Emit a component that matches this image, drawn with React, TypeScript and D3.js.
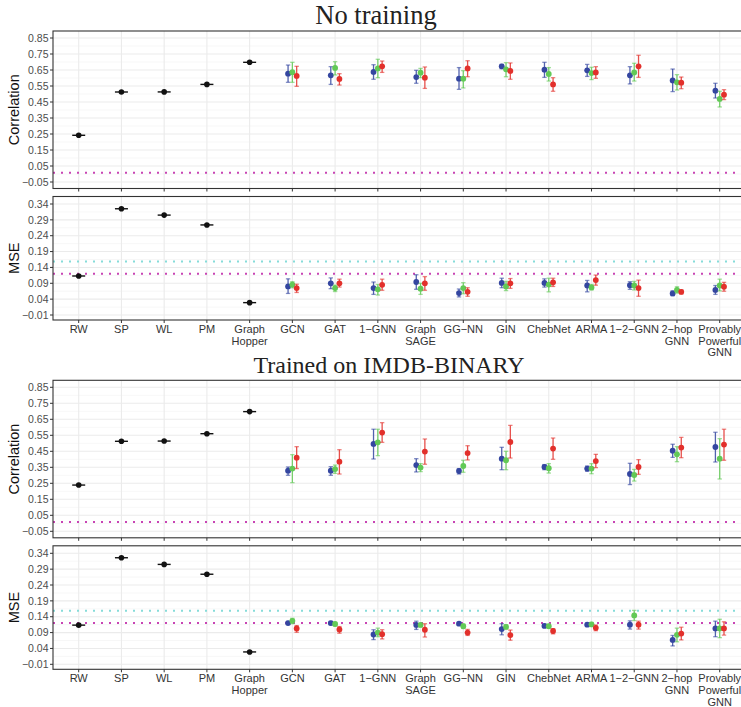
import React from "react";
import * as d3 from "d3";

// x categories
const categories = [
  "RW", "SP", "WL", "PM", "Graph\nHopper", "GCN", "GAT", "1\u2212GNN",
  "Graph\nSAGE", "GG\u2212NN", "GIN", "ChebNet", "ARMA", "1\u22122\u2212GNN",
  "2\u2212hop\nGNN", "Provably\nPowerful\nGNN",
];
const kernels = categories.slice(0, 5);
const gnns = categories.slice(5);

// kernel baselines (single value each)
const corrNoTrainKernels = [0.242, 0.5125, 0.513, 0.56, 0.698];
const mseNoTrainKernels = [0.113, 0.325, 0.305, 0.274, 0.029];
const corrTrainedKernels = [0.239, 0.5125, 0.514, 0.56, 0.698];
const mseTrainedKernels = [0.1135, 0.326, 0.305, 0.274, 0.029];

// gnn series: [mean, low, high]
const corrNoTrainBlue = [[0.627,0.573,0.681],[0.617,0.56,0.671],[0.638,0.592,0.683],[0.606,0.567,0.648],[0.596,0.529,0.665],[0.673,0.658,0.685],[0.652,0.604,0.698],[0.648,0.61,0.685],[0.617,0.563,0.671],[0.585,0.515,0.656],[0.521,0.475,0.567]];
const corrNoTrainGreen = [[0.636,0.573,0.698],[0.663,0.619,0.702],[0.66,0.602,0.717],[0.633,0.602,0.66],[0.596,0.538,0.646],[0.654,0.608,0.696],[0.625,0.581,0.665],[0.631,0.59,0.667],[0.635,0.581,0.692],[0.573,0.525,0.621],[0.469,0.419,0.517]];
const corrNoTrainRed = [[0.613,0.548,0.673],[0.594,0.556,0.627],[0.673,0.635,0.706],[0.602,0.535,0.669],[0.66,0.608,0.708],[0.644,0.592,0.694],[0.56,0.517,0.602],[0.635,0.598,0.671],[0.673,0.604,0.742],[0.571,0.533,0.606],[0.496,0.465,0.527]];

const mseNoTrainBlue = [[0.08,0.058,0.104],[0.09,0.073,0.107],[0.075,0.055,0.094],[0.094,0.071,0.117],[0.059,0.047,0.072],[0.091,0.076,0.106],[0.091,0.078,0.104],[0.083,0.063,0.099],[0.084,0.071,0.095],[0.058,0.051,0.066],[0.069,0.055,0.083]];
const mseNoTrainGreen = [[0.086,0.076,0.095],[0.075,0.064,0.084],[0.071,0.053,0.086],[0.073,0.055,0.09],[0.075,0.057,0.092],[0.08,0.067,0.096],[0.086,0.063,0.106],[0.077,0.069,0.086],[0.083,0.069,0.096],[0.069,0.059,0.079],[0.083,0.066,0.103]];
const mseNoTrainRed = [[0.075,0.061,0.087],[0.09,0.078,0.103],[0.085,0.068,0.103],[0.09,0.068,0.111],[0.063,0.049,0.076],[0.09,0.074,0.105],[0.093,0.08,0.106],[0.1,0.084,0.116],[0.075,0.049,0.1],[0.063,0.056,0.069],[0.079,0.065,0.093]];

const corrTrainedBlue = [[0.329,0.3,0.352],[0.329,0.3,0.354],[0.496,0.402,0.588],[0.364,0.321,0.404],[0.327,0.308,0.342],[0.404,0.335,0.475],[0.352,0.335,0.367],[0.342,0.325,0.358],[0.308,0.242,0.375],[0.454,0.412,0.494],[0.477,0.383,0.569]];
const corrTrainedGreen = [[0.342,0.254,0.429],[0.339,0.312,0.364],[0.506,0.423,0.588],[0.348,0.323,0.373],[0.358,0.319,0.394],[0.394,0.335,0.45],[0.344,0.314,0.373],[0.342,0.31,0.373],[0.302,0.264,0.337],[0.431,0.385,0.479],[0.404,0.277,0.529]];
const corrTrainedRed = [[0.41,0.342,0.479],[0.385,0.308,0.46],[0.567,0.506,0.629],[0.448,0.369,0.527],[0.439,0.396,0.485],[0.508,0.408,0.612],[0.467,0.4,0.533],[0.389,0.348,0.431],[0.352,0.306,0.398],[0.473,0.41,0.537],[0.492,0.394,0.588]];

const mseTrainedBlue = [[0.12,0.116,0.125],[0.12,0.115,0.125],[0.084,0.068,0.099],[0.114,0.1,0.126],[0.118,0.114,0.122],[0.101,0.083,0.118],[0.111,0.107,0.116],[0.115,0.11,0.119],[0.115,0.101,0.127],[0.067,0.048,0.081],[0.103,0.077,0.126]];
const mseTrainedGreen = [[0.127,0.118,0.135],[0.117,0.111,0.122],[0.09,0.077,0.104],[0.114,0.108,0.119],[0.11,0.103,0.117],[0.108,0.102,0.115],[0.11,0.105,0.116],[0.116,0.109,0.122],[0.144,0.128,0.16],[0.083,0.061,0.104],[0.103,0.074,0.132]];
const mseTrainedRed = [[0.103,0.091,0.112],[0.1,0.088,0.109],[0.085,0.07,0.099],[0.099,0.076,0.118],[0.09,0.081,0.1],[0.082,0.066,0.098],[0.095,0.086,0.102],[0.105,0.096,0.114],[0.115,0.101,0.126],[0.087,0.067,0.107],[0.103,0.082,0.124]];

// reference (dotted) lines
const corrRefLines = [0.008];
const mseRefLines = [0.159, 0.12];

const corrTicks = [0.85, 0.75, 0.65, 0.55, 0.45, 0.35, 0.25, 0.15, 0.05, -0.05];
const mseTicks = [0.34, 0.29, 0.24, 0.19, 0.14, 0.09, 0.04, -0.01];

const seriesColors = ["#3446a0", "#62c956", "#e2302b"];
const refColors = ["#86dcd9", "#c844b4"];
const corrRefColors = ["#c844b4"];

const W = 741;
const H = 707;
const left = 53;
const right = 745;
const PANEL_SHIFT = 349.3;

const x = d3.scalePoint<string>().domain(categories).range([78.7, 719.7]);

type Sub = {
  top: number;
  bottom: number;
  y: d3.ScaleLinear<number, number>;
  ticks: number[];
  label: string;
  kernelVals: number[];
  series: number[][][];
  refs: number[];
  refCols: string[];
  fmt: (v: number) => string;
};

function SubPanel({ p, showX }: { p: Sub; showX: boolean }) {
  const { y } = p;
  const minor = p.ticks.slice(0, -1).map((t, i) => (t + p.ticks[i + 1]) / 2);
  const dodge = [-4.3, 0, 4.3];
  return (
    <g>
      <rect x={left} y={p.top} width={right - left} height={p.bottom - p.top} fill="white" />
      {minor.map((t) => (
        <line key={"mi" + t} x1={left} x2={right} y1={y(t)} y2={y(t)} stroke="#f2f2f2" strokeWidth={0.6} />
      ))}
      {p.ticks.map((t) => (
        <line key={"ma" + t} x1={left} x2={right} y1={y(t)} y2={y(t)} stroke="#ebebeb" strokeWidth={1.1} />
      ))}
      {categories.map((c) => (
        <line key={"vx" + c} x1={x(c)} x2={x(c)} y1={p.top} y2={p.bottom} stroke="#ebebeb" strokeWidth={1.1} />
      ))}
      {p.refs.map((r, i) => (
        <line key={"ref" + i} x1={left} x2={right} y1={y(r)} y2={y(r)} stroke={p.refCols[i]}
          strokeWidth={2} strokeDasharray="2 6" />
      ))}
      {kernels.map((k, i) => (
        <g key={"k" + k}>
          <line x1={x(k)! - 6.5} x2={x(k)! + 6.5} y1={y(p.kernelVals[i])} y2={y(p.kernelVals[i])} stroke="#111" strokeWidth={1.4} />
          <circle cx={x(k)} cy={y(p.kernelVals[i])} r={2.8} fill="#111" />
        </g>
      ))}
      {p.series.map((s, si) =>
        s.map((d, gi) => {
          const cx = x(gnns[gi])! + dodge[si];
          const col = seriesColors[si];
          return (
            <g key={`s${si}-${gi}`}>
              <g stroke={col} strokeWidth={1.3} strokeOpacity={0.85}>
                <line x1={cx} x2={cx} y1={y(d[1])} y2={y(d[2])} />
                <line x1={cx - 2.2} x2={cx + 2.2} y1={y(d[1])} y2={y(d[1])} strokeOpacity={0.6} />
                <line x1={cx - 2.2} x2={cx + 2.2} y1={y(d[2])} y2={y(d[2])} strokeOpacity={0.6} />
              </g>
              <circle cx={cx} cy={y(d[0])} r={2.9} fill={col} />
            </g>
          );
        })
      )}
      <rect x={left} y={p.top} width={right - left} height={p.bottom - p.top} fill="none" stroke="#333" strokeWidth={1.1} />
      {p.ticks.map((t) => (
        <g key={"yt" + t}>
          <line x1={left - 3} x2={left} y1={y(t)} y2={y(t)} stroke="#333" strokeWidth={1} />
          <text x={left - 4.5} y={y(t)} dy="0.35em" textAnchor="end" fontSize={10.5} fill="#4d4d4d"
            fontFamily="Liberation Sans, Arial, sans-serif">{p.fmt(t)}</text>
        </g>
      ))}
      {categories.map((c) => (
        <line key={"xt" + c} x1={x(c)} x2={x(c)} y1={p.bottom} y2={p.bottom + 3} stroke="#333" strokeWidth={1} />
      ))}
      <text transform={`translate(19,${(p.top + p.bottom) / 2}) rotate(-90)`} textAnchor="middle"
        fontSize={14.5} fill="#111" fontFamily="Liberation Sans, Arial, sans-serif">{p.label}</text>
      {showX &&
        categories.map((c) => (
          <text key={"xl" + c} x={x(c)} y={p.bottom + 13} textAnchor="middle" fontSize={11} fill="#333"
            fontFamily="Liberation Sans, Arial, sans-serif">
            {c.split("\n").map((line, li) => (
              <tspan key={li} x={x(c)} dy={li === 0 ? 0 : 11.6}>{line}</tspan>
            ))}
          </text>
        ))}
    </g>
  );
}

function Block({ shift, title, titleX, titleSize, corr, mse }: {
  shift: number; title: string; titleX: number; titleSize: number;
  corr: { k: number[]; s: number[][][] };
  mse: { k: number[]; s: number[][][] };
}) {
  const corrP: Sub = {
    top: 31 + shift, bottom: 188.5 + shift,
    y: d3.scaleLinear().domain([-0.05, 0.85]).range([182 + shift, 38 + shift]),
    ticks: corrTicks, label: "Correlation", kernelVals: corr.k, series: corr.s,
    refs: corrRefLines, refCols: corrRefColors, fmt: d3.format(".2f"),
  };
  const mseP: Sub = {
    top: 196.5 + shift, bottom: 320 + shift,
    y: d3.scaleLinear().domain([-0.01, 0.34]).range([315 + shift, 204 + shift]),
    ticks: mseTicks, label: "MSE", kernelVals: mse.k, series: mse.s,
    refs: mseRefLines, refCols: refColors, fmt: d3.format(".2f"),
  };
  return (
    <g>
      <text x={titleX} y={24 + shift} textAnchor="middle" fontSize={titleSize} fill="#222"
        fontFamily="Liberation Serif, Times New Roman, serif">{title}</text>
      <SubPanel p={corrP} showX={false} />
      <SubPanel p={mseP} showX={true} />
    </g>
  );
}

export default function App() {
  return (
    <svg width={W} height={H} style={{ position: "absolute", left: 0, top: 0, background: "white" }}>
      <rect width={W} height={H} fill="white" />
      <Block shift={0} title="No training" titleX={376} titleSize={26.5}
        corr={{ k: corrNoTrainKernels, s: [corrNoTrainBlue, corrNoTrainGreen, corrNoTrainRed] }}
        mse={{ k: mseNoTrainKernels, s: [mseNoTrainBlue, mseNoTrainGreen, mseNoTrainRed] }} />
      <Block shift={PANEL_SHIFT} title="Trained on IMDB-BINARY" titleX={389} titleSize={24}
        corr={{ k: corrTrainedKernels, s: [corrTrainedBlue, corrTrainedGreen, corrTrainedRed] }}
        mse={{ k: mseTrainedKernels, s: [mseTrainedBlue, mseTrainedGreen, mseTrainedRed] }} />
    </svg>
  );
}
